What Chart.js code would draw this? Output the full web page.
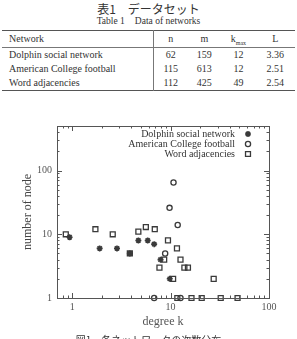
<!DOCTYPE html>
<html>
<head>
<meta charset="utf-8">
<script src="https://cdn.jsdelivr.net/npm/chart.js@4/dist/chart.umd.min.js"></script>
<style>
  body { margin: 0; width: 297px; height: 339px; overflow: hidden; background: #fff; position: relative; font-family: 'Liberation Serif', serif; color: #333; }
  .titulo { position: absolute; left: 0; width: 297px; text-align: center; }
  #tabela { position: absolute; left: 2px; top: 30px; width: 293px; border-collapse: collapse; font-size: 10px; }
  #tabela th, #tabela td { padding: 0; font-weight: normal; line-height: 14px; height: 14px; vertical-align: middle; }
  #tabela thead th { height: 16px; }
  #tabela thead tr { border-top: 1px solid #555; border-bottom: 1px solid #777; }
  #tabela tbody tr:last-child { border-bottom: 1px solid #555; }
  #tabela .nome { text-align: left; padding-left: 7px; border-right: 1px solid #777; width: 144px; }
  #tabela .num { text-align: center; }
  #legenda { position: absolute; left: 0; top: 334px; width: 297px; text-align: center; font-family: 'Noto Sans CJK JP', sans-serif; font-size: 10px; line-height: 12px; }
  canvas { position: absolute; left: 0; top: 96px; }
</style>
</head>
<body>
<div class="titulo" style="top:0px;font-size:12px;font-family:'Noto Sans CJK JP',sans-serif;">表1　データセット</div>
<div class="titulo" style="top:15px;font-size:9.5px;">Table 1　Data of networks</div>
<table id="tabela">
  <thead>
    <tr><th class="nome">Network</th><th class="num">n</th><th class="num">m</th><th class="num">k<sub style="font-size:6px;line-height:0">max</sub></th><th class="num">L</th></tr>
  </thead>
  <tbody id="corpo"></tbody>
</table>
<canvas id="meuGrafico" width="297" height="243"></canvas>
<div id="legenda">図1　各ネットワークの次数分布</div>
<script>
// tabela
const redes = ['Dolphin social network', 'American College football', 'Word adjacencies'];
const nos = [62, 115, 112];
const arestas = [159, 613, 425];
const grauMax = [12, 12, 49];
const caminho = [3.36, 2.51, 2.54];

// distribuicao de grau
const golfinhoK = [0.94, 1.9, 2.85, 3.85, 4.7, 5.85, 6.8, 7.9, 9.8];
const golfinhoN = [9, 6, 6, 5, 8, 8, 7, 4, 2];
const futebolK = [10.7, 9.75, 11.8, 8.8, 6.8, 12.6];
const futebolN = [65, 26, 14, 5, 1, 1];
const palavrasK = [0.86, 1.72, 2.58, 3.85, 4.7, 5.6, 6.9, 9.4, 11.6, 12.6, 7.7, 8.6, 10.6, 13.8, 15, 27.4, 11.7, 16.3, 20.7, 32.3, 47.9];
const palavrasN = [10, 12, 10, 5, 11, 13, 12, 8, 6, 4, 3, 4, 2, 3, 3, 2, 1, 1, 1, 1, 1];

const rotulosX = [1, 10, 100];
const rotulosY = [1, 10, 100];

function preencherTabela() {
  let corpo = document.getElementById('corpo');
  redes.forEach((nome, i) => {
    let tr = document.createElement('tr');
    tr.innerHTML = '<td class="nome">' + nome + '</td><td class="num">' + nos[i] +
      '</td><td class="num">' + arestas[i] + '</td><td class="num">' + grauMax[i] +
      '</td><td class="num">' + caminho[i].toFixed(2) + '</td>';
    corpo.appendChild(tr);
  });
}

// marcas menores de escala log
function marcasLog(min, max) {
  let v = [];
  for (let d = 0.1; d <= max; d *= 10) {
    for (let j = 1; j < 10; j++) {
      let t = +(d * j).toPrecision(3);
      if (t >= min && t <= max) v.push(t);
    }
  }
  return v;
}

function pares(xs, ys) {
  return xs.map((x, i) => ({ x: x, y: ys[i] }));
}

const cor = '#3a3a3a';
const fonteSerif = 'Liberation Serif';

// moldura com marcas para dentro (estilo gnuplot) e legenda no canto
const moldura = {
  id: 'moldura',
  afterDraw(chart) {
    const ctx = chart.ctx;
    const a = chart.chartArea;
    const sx = chart.scales.x, sy = chart.scales.y;
    ctx.save();
    ctx.strokeStyle = '#555';
    ctx.lineWidth = 1;
    ctx.strokeRect(a.left + 0.5, a.top + 0.5, a.right - a.left, a.bottom - a.top);
    sx.ticks.forEach((t) => {
      let px = Math.round(sx.getPixelForValue(t.value)) + 0.5;
      let len = rotulosX.includes(t.value) ? 5 : 2.5;
      ctx.beginPath();
      ctx.moveTo(px, a.bottom); ctx.lineTo(px, a.bottom - len);
      ctx.moveTo(px, a.top); ctx.lineTo(px, a.top + len);
      ctx.stroke();
    });
    sy.ticks.forEach((t) => {
      let py = Math.round(sy.getPixelForValue(t.value)) + 0.5;
      let len = rotulosY.includes(t.value) ? 5 : 2.5;
      ctx.beginPath();
      ctx.moveTo(a.left, py); ctx.lineTo(a.left + len, py);
      ctx.moveTo(a.right, py); ctx.lineTo(a.right - len, py);
      ctx.stroke();
    });
    // legenda
    ctx.font = '10px "' + fonteSerif + '"';
    ctx.textAlign = 'right';
    ctx.textBaseline = 'middle';
    chart.data.datasets.forEach((ds, i) => {
      let y = a.top + 8 + i * 10;
      ctx.fillStyle = '#333';
      ctx.fillText(ds.label, a.right - 34, y);
      ctx.strokeStyle = cor;
      ctx.fillStyle = ds.backgroundColor;
      ctx.lineWidth = ds.borderWidth;
      Chart.helpers.drawPoint(ctx, { pointStyle: ds.pointStyle, radius: ds.pointRadius, rotation: 0, borderWidth: ds.borderWidth }, a.right - 21, y);
    });
    ctx.restore();
  },
};

function criarGrafico() {
  preencherTabela();
  const canvas = document.getElementById('meuGrafico');
  let contexto = canvas.getContext('2d');

  let grafico = new Chart(contexto, {
    type: 'scatter',
    data: {
      datasets: [
        {
          label: 'Dolphin social network',
          data: pares(golfinhoK, golfinhoN),
          pointStyle: 'star',
          pointRadius: 3,
          borderWidth: 1.6,
          borderColor: cor,
          backgroundColor: cor,
        },
        {
          label: 'American College football',
          data: pares(futebolK, futebolN),
          pointStyle: 'circle',
          pointRadius: 2.6,
          borderWidth: 1.3,
          borderColor: cor,
          backgroundColor: 'rgba(0,0,0,0)',
        },
        {
          label: 'Word adjacencies',
          data: pares(palavrasK, palavrasN),
          pointStyle: 'rect',
          pointRadius: 3.5,
          borderWidth: 1.3,
          borderColor: cor,
          backgroundColor: 'rgba(0,0,0,0)',
        },
      ],
    },
    options: {
      responsive: false,
      animation: false,
      devicePixelRatio: 1,
      clip: false,
      layout: { padding: { top: 30, right: 28, left: 0, bottom: 0 } },
      plugins: {
        legend: { display: false },
        tooltip: { enabled: false },
      },
      scales: {
        x: {
          type: 'logarithmic',
          min: 0.72,
          max: 100,
          grid: { display: false, drawTicks: false },
          border: { display: false },
          afterBuildTicks: (s) => { s.ticks = marcasLog(0.72, 100).map((v) => ({ value: v })); },
          afterFit: (s) => { s.height = 41; },
          ticks: {
            autoSkip: false,
            maxRotation: 0,
            padding: 3,
            color: '#555',
            font: { family: fonteSerif, size: 10 },
            callback: (v) => (rotulosX.includes(v) ? String(v) : ''),
          },
          title: {
            display: true,
            text: 'degree k',
            color: '#555',
            font: { family: fonteSerif, size: 12 },
            padding: { top: 0, bottom: 10 },
          },
        },
        y: {
          type: 'logarithmic',
          min: 1,
          max: 500,
          grid: { display: false, drawTicks: false },
          border: { display: false },
          afterBuildTicks: (s) => { s.ticks = marcasLog(1, 500).map((v) => ({ value: v })); },
          afterFit: (s) => { s.width = 57; },
          ticks: {
            autoSkip: false,
            padding: 5,
            color: '#555',
            font: { family: fonteSerif, size: 10 },
            callback: (v) => (rotulosY.includes(v) ? String(v) : ''),
          },
          title: {
            display: true,
            text: 'number of node',
            color: '#444',
            font: { family: fonteSerif, size: 12 },
            padding: { top: 21, bottom: 0 },
          },
        },
      },
    },
    plugins: [moldura],
  });
}

document.addEventListener('DOMContentLoaded', criarGrafico);
</script>
</body>
</html>
